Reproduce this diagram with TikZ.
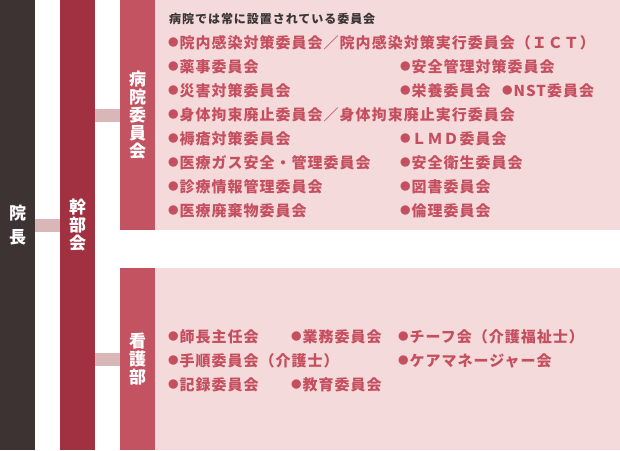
\documentclass[tikz,border=0pt]{standalone}
\usepackage{fontspec}
\newfontfamily\jp{Noto Sans CJK JP}
\newfontfamily\jpi{Noto Sans CJK JP}[LetterSpace=6.7]
\newfontfamily\jph{Noto Sans CJK JP}[LetterSpace=8]
\definecolor{inchoc}{HTML}{3E3333}
\definecolor{kanbuc}{HTML}{A13040}
\definecolor{iinc}{HTML}{C45362}
\definecolor{pinkc}{HTML}{F5DADB}
\definecolor{connc}{HTML}{D9B6B7}
\definecolor{itemc}{HTML}{C44F5F}
\definecolor{headc}{HTML}{3A3535}
\newcommand\bul{\hspace{-1.2pt}{\fontsize{10.5}{10.5}\selectfont\raisebox{1.7pt}{●}}\hspace{1.2pt}}
\tikzset{
  col/.style={draw=none, inner sep=0pt, text=white, align=center, anchor=north west,
    font={\jp\bfseries\fontsize{17}{18}\selectfont}},
  pinkbox/.style={fill=pinkc, draw=none, inner sep=0pt, anchor=north west},
  conn/.style={draw=connc, line width=13pt},
  item/.style={anchor=base west, inner sep=0pt, text=itemc, font={\jpi\bfseries\fontsize{15}{15}\selectfont}},
  head/.style={anchor=base west, inner sep=0pt, text=headc, font={\jph\bfseries\fontsize{12}{12}\selectfont}},
}
\begin{document}
\begin{tikzpicture}[x=1pt,y=-1pt]
\useasboundingbox[fill=white] (0,0) rectangle (620,450);
% pink areas
\node[pinkbox, minimum width=465pt, minimum height=230pt] (hosparea) at (155,0) {};
\node[pinkbox, minimum width=465pt, minimum height=182pt] (nursarea) at (155,268) {};
% columns
\node[col, fill=inchoc, minimum width=35pt, minimum height=450pt] (incho) at (0,0) {院\\[6pt]長};
\node[col, fill=kanbuc, minimum width=35pt, minimum height=450pt] (kanbu) at (60,0) {幹\\部\\会};
\node[col, fill=iinc, minimum width=35pt, minimum height=230pt] (byoin) at (120,0) {病\\院\\委\\員\\会};
\node[col, fill=iinc, minimum width=35pt, minimum height=182pt] (kango) at (120,268) {看\\護\\部};
% connectors
\draw[conn] (incho.east) -- (kanbu.west);
\draw[conn] (kanbu.east |- byoin.west) -- (byoin.west);
\draw[conn] (kanbu.east |- kango.west) -- (kango.west);
% hospital committees
\node[head] (h0) at (169,23.5) {病院では常に設置されている委員会};
\node[item] (a1) at (169,48) {\bul 院内感染対策委員会／院内感染対策実行委員会（ＩＣＴ）};
\node[item] (a2) at (169,72) {\bul 薬事委員会};
\node[item] (b2) at (401,72) {\bul 安全管理対策委員会};
\node[item] (a3) at (169,96) {\bul 災害対策委員会};
\node[item] (b3) at (401,96) {\bul 栄養委員会};
\node[item] (c3) at (503,96) {\bul NST委員会};
\node[item] (a4) at (169,120) {\bul 身体拘束廃止委員会／身体拘束廃止実行委員会};
\node[item] (a5) at (169,144) {\bul 褥瘡対策委員会};
\node[item] (b5) at (401,144) {\bul ＬＭＤ委員会};
\node[item] (a6) at (169,168) {\bul 医療ガス安全・管理委員会};
\node[item] (b6) at (401,168) {\bul 安全衛生委員会};
\node[item] (a7) at (169,192) {\bul 診療情報管理委員会};
\node[item] (b7) at (401,192) {\bul 図書委員会};
\node[item] (a8) at (169,216) {\bul 医療廃棄物委員会};
\node[item] (b8) at (401,216) {\bul 倫理委員会};
% nursing
\node[item] (n1) at (169,342) {\bul 師長主任会};
\node[item] (n2) at (292,342) {\bul 業務委員会};
\node[item] (n3) at (399,342) {\bul チーフ会（介護福祉士）};
\node[item] (n4) at (169,366) {\bul 手順委員会（介護士）};
\node[item] (n5) at (399,366) {\bul ケアマネージャー会};
\node[item] (n6) at (169,390) {\bul 記録委員会};
\node[item] (n7) at (292,390) {\bul 教育委員会};
\end{tikzpicture}
\end{document}
